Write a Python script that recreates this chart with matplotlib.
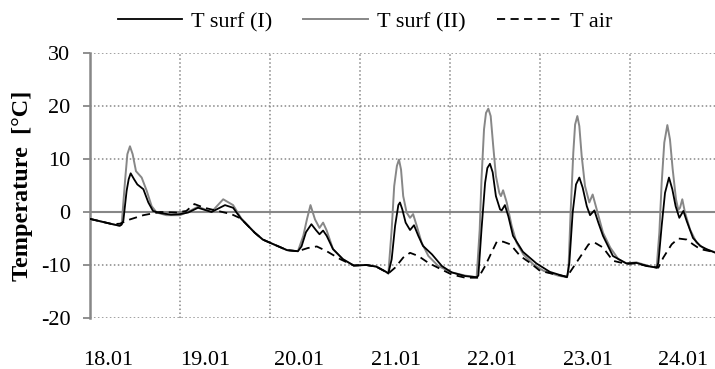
import numpy as np
import matplotlib.pyplot as plt

# dados (tempo em dias a partir de 18.01 00:00, temperatura em °C)
t_surf1 = [0.00, 0.15, 0.25, 0.33, 0.35, 0.37, 0.407, 0.43, 0.452, 0.489, 0.526, 0.593, 0.648, 0.70,
           0.78, 0.90, 1.00, 1.09, 1.20, 1.35, 1.50, 1.59, 1.68, 1.83, 1.92, 2.00, 2.19, 2.31,
           2.35, 2.40, 2.46, 2.51, 2.55, 2.59, 2.63, 2.70, 2.81, 2.93, 3.07, 3.18, 3.29, 3.315,
           3.352, 3.39, 3.426, 3.444, 3.47, 3.507, 3.556, 3.60, 3.648, 3.70, 3.80, 3.91, 4.02, 4.17,
           4.296, 4.315, 4.35, 4.39, 4.415, 4.444, 4.474, 4.51, 4.556, 4.574, 4.61, 4.648, 4.70, 4.81,
           4.96, 5.11, 5.30, 5.326, 5.363, 5.40, 5.437, 5.474, 5.52, 5.556, 5.604, 5.648, 5.70, 5.81,
           5.96, 6.07, 6.19, 6.296, 6.315, 6.352, 6.389, 6.433, 6.47, 6.507, 6.548, 6.593, 6.63, 6.70,
           6.78, 6.85, 6.95]
T_surf1 = [-1.3, -1.9, -2.3, -2.6, -2.4, -1.7, 4.0, 6.2, 7.3, 6.2, 5.2, 4.3, 1.8, 0.2,
           -0.2, -0.5, -0.4, -0.1, 0.8, 0.0, 1.3, 0.8, -1.3, -3.9, -5.2, -5.8, -7.2, -7.4,
           -6.5, -3.8, -2.3, -3.4, -4.2, -3.5, -4.5, -7.0, -8.9, -10.1, -10.0, -10.3, -11.3, -11.6,
           -8.9, -2.6, 1.3, 1.8, 0.5, -2.0, -3.4, -2.5, -4.5, -6.4, -8.0, -10.2, -11.4, -12.1,
           -12.3, -12.0, -3.3, 5.5, 8.3, 9.1, 7.5, 3.0, 0.5, 0.3, 1.3, -0.8, -4.5, -7.5,
           -9.7, -11.3, -12.3, -9.6, -0.1, 5.2, 6.5, 4.6, 1.1, -0.6, 0.3, -2.0, -4.5, -8.3,
           -9.7, -9.6, -10.2, -10.5, -9.6, -2.6, 3.6, 6.5, 4.3, 1.1, -1.1, 0.2, -1.7, -4.9,
           -6.4, -7.0, -7.7]

t_surf2 = [0.00, 0.15, 0.25, 0.33, 0.352, 0.389, 0.415, 0.444, 0.474, 0.511, 0.574, 0.63, 0.685, 0.74,
           0.85, 1.00, 1.11, 1.20, 1.35, 1.48, 1.59, 1.68, 1.83, 1.92, 2.00, 2.19, 2.31, 2.37,
           2.41, 2.45, 2.50, 2.55, 2.59, 2.63, 2.70, 2.81, 2.93, 3.07, 3.18, 3.29, 3.315, 3.352,
           3.38, 3.41, 3.433, 3.456, 3.48, 3.518, 3.556, 3.59, 3.63, 3.685, 3.76, 3.87, 4.02, 4.17,
           4.296, 4.33, 4.35, 4.378, 4.40, 4.426, 4.452, 4.48, 4.51, 4.548, 4.566, 4.59, 4.63, 4.685,
           4.74, 4.815, 4.926, 5.04, 5.20, 5.30, 5.315, 5.34, 5.37, 5.39, 5.415, 5.437, 5.463, 5.50,
           5.548, 5.585, 5.63, 5.70, 5.78, 5.87, 5.96, 6.07, 6.19, 6.296, 6.326, 6.352, 6.381, 6.415,
           6.444, 6.474, 6.511, 6.537, 6.556, 6.581, 6.611, 6.667, 6.74, 6.83, 6.95]
T_surf2 = [-1.3, -1.9, -2.3, -2.6, -2.3, 5.8, 10.9, 12.4, 10.9, 7.7, 6.5, 4.0, 1.1, -0.1,
           -0.6, -0.6, 0.2, 1.0, 0.0, 2.4, 1.3, -1.2, -3.9, -5.2, -5.8, -7.2, -7.4, -4.5,
           -1.4, 1.3, -1.4, -3.0, -2.0, -3.5, -7.0, -8.9, -10.1, -10.0, -10.3, -11.3, -11.6, -3.3,
           4.9, 8.7, 9.9, 8.0, 3.0, -0.1, -1.1, -0.4, -2.6, -5.8, -8.3, -10.2, -11.4, -12.0,
           -12.3, -3.3, 6.2, 15.6, 18.7, 19.5, 18.1, 12.5, 6.8, 3.6, 3.0, 4.1, 1.8, -2.6,
           -5.8, -8.0, -9.9, -11.1, -12.0, -12.3, -11.4, -0.1, 11.2, 16.5, 18.1, 16.2, 10.6, 4.9,
           1.8, 3.3, 0.5, -3.9, -6.7, -8.9, -9.7, -9.5, -10.1, -10.5, -3.9, 5.5, 13.1, 16.4,
           13.7, 8.1, 2.4, 0.4, 0.8, 2.4, -0.1, -3.3, -5.8, -7.0, -7.6]

t_air = [0.00, 0.15, 0.25, 0.333, 0.444, 0.593, 0.78, 0.96, 1.07, 1.16, 1.27, 1.42, 1.57, 1.66,
         1.68, 1.83, 1.92, 2.00, 2.19, 2.31, 2.42, 2.52, 2.63, 2.78, 2.93, 3.07, 3.18, 3.29,
         3.315, 3.39, 3.48, 3.556, 3.648, 3.76, 3.90, 4.02, 4.17, 4.315, 4.39, 4.46, 4.52, 4.59,
         4.67, 4.78, 4.89, 5.00, 5.15, 5.30, 5.43, 5.54, 5.61, 5.70, 5.81, 5.96, 6.07, 6.19,
         6.315, 6.37, 6.463, 6.537, 6.63, 6.70, 6.78, 6.89, 6.95]
T_air = [-1.3, -1.9, -2.3, -2.2, -1.4, -0.6, 0.0, -0.1, 0.2, 1.5, 0.8, 0.2, -0.4, -1.1,
         -1.3, -3.9, -5.2, -5.8, -7.2, -7.4, -6.8, -6.5, -7.4, -8.9, -10.1, -10.0, -10.3, -11.3,
         -11.6, -10.5, -8.6, -7.7, -8.3, -9.6, -10.8, -11.8, -12.4, -12.4, -10.2, -7.7, -5.6, -5.6,
         -6.1, -8.3, -9.6, -11.1, -11.7, -12.2, -8.9, -6.1, -5.8, -6.7, -9.2, -9.8, -9.7, -10.2,
         -10.5, -8.6, -6.1, -5.0, -5.2, -6.1, -7.0, -7.4, -7.8]

rotulos_x = ["18.01", "19.01", "20.01", "21.01", "22.01", "23.01", "24.01"]
rotulos_y = [-20, -10, 0, 10, 20, 30]

cinza = "#878787"
plt.rcParams["font.family"] = ["Liberation Serif", "DejaVu Serif"]

fig = plt.figure(figsize=(7.15, 3.69), dpi=100)
ax = fig.add_axes([90 / 715, 1 - 318 / 369, 1 - 90 / 715, (318 - 53) / 369])

ax.plot(t_surf1, T_surf1, color="black", lw=1.3, label="T surf (I)", zorder=4)
ax.plot(t_surf2, T_surf2, color=cinza, lw=1.4, label="T surf (II)", zorder=3)
ax.plot(t_air, T_air, color="black", lw=1.3, dashes=(4.5, 3), label="T air", zorder=5)

ax.set_xlim(0, 625 / 90)
ax.set_ylim(-20, 30)

# grade
ax.set_yticks(rotulos_y)
ax.set_yticklabels([str(v) for v in rotulos_y], fontsize=16)
for v in rotulos_y:
    if v == 0:
        ax.axhline(0, color=cinza, lw=1.5, zorder=2)
    else:
        ax.axhline(v, color=cinza, lw=1.1, ls=(0, (1, 1.6)), zorder=1)
for d in range(1, 7):
    ax.axvline(d, color=cinza, lw=1.1, ls=(0, (1, 1.6)), zorder=1)

# rótulos do eixo x deslocados como no original
pos_rotulos = [0.2, 1.278, 2.322, 3.4, 4.467, 5.533, 6.589]
ax.set_xticks(pos_rotulos)
ax.set_xticklabels(rotulos_x, fontsize=16)
ax.tick_params(axis="x", length=0, pad=24)
ax.tick_params(axis="y", length=5, width=1.3, color=cinza, pad=9)

for s in ["top", "right", "bottom"]:
    ax.spines[s].set_visible(False)
ax.spines["left"].set_color(cinza)
ax.spines["left"].set_linewidth(1.8)

ax.set_ylabel("Temperature  [°C]", fontsize=17.5, fontweight="bold", labelpad=6)

fig.legend(loc="center", bbox_to_anchor=(365 / 715, 1 - 22 / 369), ncol=3, frameon=False,
           fontsize=16, handlelength=2.9, handletextpad=0.4, columnspacing=1.4)

fig.savefig("out.png", dpi=100)
